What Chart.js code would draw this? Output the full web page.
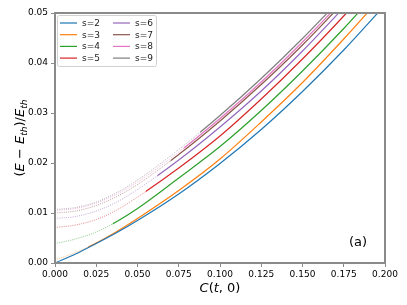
<!DOCTYPE html>
<html>
<head>
<meta charset="utf-8">
<script src="https://cdn.jsdelivr.net/npm/chart.js@4/dist/chart.umd.min.js"></script>
<style>
  html, body { margin: 0; padding: 0; background: #fff; }
</style>
</head>
<body>
<canvas id="energyChart" width="407" height="305"></canvas>
<script>
// C(t,0) sample points shared by all curves
const cValues = [0, 0.0125, 0.025, 0.0375, 0.05, 0.075, 0.1, 0.125, 0.15, 0.175, 0.2];

// (E - E_th)/E_th
const s2 = [0.0000, 0.0018, 0.0039, 0.0061, 0.0085, 0.0138, 0.0199, 0.0267, 0.0343, 0.0426, 0.0516];
const s3 = [0.0006, 0.0021, 0.0040, 0.0063, 0.0089, 0.0145, 0.0208, 0.0282, 0.0361, 0.0448, 0.0540];
const s4 = [0.0039, 0.0048, 0.0062, 0.0083, 0.0109, 0.0170, 0.0233, 0.0305, 0.0384, 0.0469, 0.0560];
const s5 = [0.0071, 0.0076, 0.0087, 0.0106, 0.0132, 0.0190, 0.0254, 0.0328, 0.0408, 0.0494, 0.0585];
const s6 = [0.0089, 0.0093, 0.0104, 0.0122, 0.0147, 0.0206, 0.0272, 0.0344, 0.0424, 0.0511, 0.0600];
const s7 = [0.0100, 0.0104, 0.0115, 0.0133, 0.0157, 0.0217, 0.0284, 0.0357, 0.0436, 0.0522, 0.0610];
const s8 = [0.0105, 0.0109, 0.0120, 0.0138, 0.0162, 0.0222, 0.0289, 0.0362, 0.0442, 0.0528, 0.0620];
const s9 = [0.0107, 0.0111, 0.0122, 0.0141, 0.0166, 0.0227, 0.0295, 0.0369, 0.0449, 0.0535, 0.0625];

const seriesLabels = ['s=2', 's=3', 's=4', 's=5', 's=6', 's=7', 's=8', 's=9'];
const seriesValues = [s2, s3, s4, s5, s6, s7, s8, s9];
// below this C the curve is drawn faint/dotted
const solidFrom = [0, 0.02, 0.035, 0.055, 0.062, 0.07, 0.078, 0.088];

const xTicks = [0, 0.025, 0.05, 0.075, 0.1, 0.125, 0.15, 0.175, 0.2];
const yTicks = [0, 0.01, 0.02, 0.03, 0.04, 0.05];

const colors = ['#1f77b4', '#ff7f0e', '#2ca02c', '#d62728', '#9467bd', '#8c564b', '#e377c2', '#7f7f7f'];
const FONT = "'DejaVu Sans', sans-serif";
const SPINE = '#8a8a8a';

function fade(hex, a) {
  const n = parseInt(hex.slice(1), 16);
  return `rgba(${n >> 16}, ${(n >> 8) & 255}, ${n & 255}, ${a})`;
}

const datasets = [];
seriesValues.forEach((vals, i) => {
  const pts = cValues.map((c, k) => ({ x: c, y: vals[k] }));
  // faint dotted part
  datasets.push({
    label: seriesLabels[i] + ' (faint)',
    data: pts,
    borderColor: fade(colors[i], 0.55),
    borderWidth: 1,
    borderDash: [1, 1.2],
    pointRadius: 0,
    cubicInterpolationMode: 'monotone',
    clipRange: [0, solidFrom[i]],
    inLegend: false
  });
  // solid part
  datasets.push({
    label: seriesLabels[i],
    data: pts,
    borderColor: colors[i],
    borderWidth: 1.2,
    pointRadius: 0,
    cubicInterpolationMode: 'monotone',
    clipRange: [solidFrom[i], 1],
    inLegend: true,
    legendColor: colors[i]
  });
});

// clip each dataset to its C range
const clipPlugin = {
  id: 'clipRange',
  beforeDatasetDraw(chart, args) {
    const ds = chart.data.datasets[args.index];
    if (!ds.clipRange) return;
    const a = chart.chartArea;
    const xs = chart.scales.x;
    const x0 = Math.max(a.left, xs.getPixelForValue(ds.clipRange[0]));
    const x1 = Math.min(a.right, xs.getPixelForValue(ds.clipRange[1]));
    const ctx = chart.ctx;
    ctx.save();
    ctx.beginPath();
    ctx.rect(x0, a.top, Math.max(0, x1 - x0), a.bottom - a.top);
    ctx.clip();
  },
  afterDatasetDraw(chart, args) {
    const ds = chart.data.datasets[args.index];
    if (ds.clipRange) chart.ctx.restore();
  }
};

function drawMath(ctx, parts, size) {
  // parts: {t, it, sub}
  let w = 0;
  parts.forEach(p => {
    const s = p.sub ? size * 0.7 : size;
    ctx.font = `${p.it ? 'italic ' : ''}${s}px ${FONT}`;
    p.w = ctx.measureText(p.t).width;
    p.s = s;
    w += p.w;
  });
  let x = -w / 2;
  parts.forEach(p => {
    ctx.font = `${p.it ? 'italic ' : ''}${p.s}px ${FONT}`;
    ctx.fillText(p.t, x, p.sub ? size * 0.22 : 0);
    x += p.w;
  });
}

const decorPlugin = {
  id: 'decor',
  afterDatasetsDraw(chart) {
    const ctx = chart.ctx;
    const a = chart.chartArea;
    ctx.save();
    // frame
    ctx.strokeStyle = SPINE;
    ctx.lineWidth = 2;
    ctx.strokeRect(a.left, a.top, a.right - a.left, a.bottom - a.top);

    // legend
    const lx = a.left + 2, ly = a.top + 2, lw = 99, lh = 51;
    ctx.fillStyle = 'rgba(255,255,255,0.85)';
    ctx.strokeStyle = '#d0d0d0';
    ctx.lineWidth = 1;
    ctx.beginPath();
    ctx.roundRect(lx + 0.5, ly + 0.5, lw, lh, 2);
    ctx.fill();
    ctx.stroke();
    const items = chart.data.datasets.filter(d => d.inLegend);
    ctx.font = `9px ${FONT}`;
    ctx.textBaseline = 'middle';
    ctx.textAlign = 'left';
    items.forEach((d, i) => {
      const col = Math.floor(i / 4), row = i % 4;
      const x = lx + 3 + col * 53;
      const y = ly + 8 + row * 11.7;
      ctx.strokeStyle = d.legendColor;
      ctx.lineWidth = 1.2;
      ctx.beginPath();
      ctx.moveTo(x, y);
      ctx.lineTo(x + 17, y);
      ctx.stroke();
      ctx.fillStyle = '#222';
      ctx.fillText(d.label, x + 22, y + 0.5);
    });

    // panel tag
    ctx.fillStyle = '#000';
    ctx.font = `13px ${FONT}`;
    ctx.textAlign = 'center';
    ctx.fillText('(a)', 358, 243);

    // x title
    ctx.textAlign = 'left';
    ctx.textBaseline = 'alphabetic';
    ctx.save();
    ctx.translate((a.left + a.right) / 2, 292);
    drawMath(ctx, [
      { t: 'C', it: true }, { t: '(' }, { t: 't', it: true }, { t: ', 0)' }
    ], 13);
    ctx.restore();

    // y title
    ctx.save();
    ctx.translate(24, (a.top + a.bottom) / 2);
    ctx.rotate(-Math.PI / 2);
    drawMath(ctx, [
      { t: '(' }, { t: 'E', it: true }, { t: ' − ' }, { t: 'E', it: true },
      { t: 'th', it: true, sub: true }, { t: ')/' }, { t: 'E', it: true },
      { t: 'th', it: true, sub: true }
    ], 13);
    ctx.restore();
    ctx.restore();
  }
};

const tickFont = { family: FONT, size: 9 };

new Chart(document.getElementById('energyChart').getContext('2d'), {
  type: 'line',
  data: { datasets },
  options: {
    responsive: false,
    animation: false,
    devicePixelRatio: 1,
    layout: { padding: { top: 13, right: 22, left: 0, bottom: 0 } },
    plugins: { legend: { display: false }, tooltip: { enabled: false } },
    scales: {
      x: {
        type: 'linear',
        min: 0,
        max: 0.2,
        afterBuildTicks: s => { s.ticks = xTicks.map(v => ({ value: v })); },
        afterFit: s => { s.height = 42; },
        ticks: { callback: v => v.toFixed(3), font: tickFont, color: '#000', padding: 2, maxRotation: 0, autoSkip: false },
        grid: { drawOnChartArea: false, tickLength: 4, color: SPINE, lineWidth: 1 },
        border: { color: SPINE, width: 2 }
      },
      y: {
        type: 'linear',
        min: 0,
        max: 0.05,
        afterBuildTicks: s => { s.ticks = yTicks.map(v => ({ value: v })); },
        afterFit: s => { s.width = 55; },
        ticks: { callback: v => v.toFixed(2), font: tickFont, color: '#000', padding: 3 },
        grid: { drawOnChartArea: false, tickLength: 4, color: SPINE, lineWidth: 1 },
        border: { color: SPINE, width: 2 }
      }
    }
  },
  plugins: [clipPlugin, decorPlugin]
});
</script>
</body>
</html>
